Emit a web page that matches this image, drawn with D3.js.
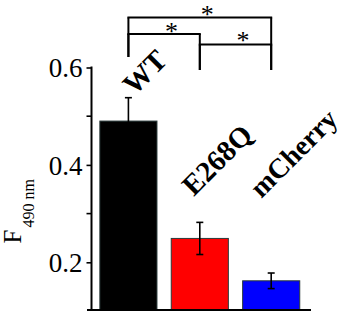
<!DOCTYPE html>
<html><head><meta charset="utf-8">
<script src="https://cdn.jsdelivr.net/npm/d3@7"></script>
<style>html,body{margin:0;padding:0;background:#fff;}svg{display:block;}</style>
</head><body>
<script>
const categories = ["WT", "E268Q", "mCherry"];
const values = [0.49, 0.249, 0.162];
const errors = [0.048, 0.033, 0.016];
const colors = ["#000000", "#ff0000", "#0000ff"];
const majorTicks = [0.2, 0.4, 0.6];
const minorTicks = [0.3, 0.5];
const comparisons = [["WT", "mCherry"], ["WT", "E268Q"], ["E268Q", "mCherry"]];
const sigLabels = ["*", "*", "*"];

const W = 346, H = 316;
const svg = d3.select("body").append("svg").attr("width", W).attr("height", H);
const serif = "Liberation Serif, Times New Roman, serif";

const x = d3.scaleBand().domain(categories).range([92, 307.6]).paddingInner(0.2).paddingOuter(0.11);
const y = d3.scaleLinear().domain([0.1, 0.6]).range([311, 67.5]);
const axisY = 310, axisX = 91.5;

// bars
svg.selectAll("rect.bar").data(categories).enter().append("rect")
  .attr("x", d => x(d)).attr("width", x.bandwidth())
  .attr("y", (d, i) => y(values[i])).attr("height", (d, i) => axisY - y(values[i]))
  .attr("fill", (d, i) => colors[i]).attr("stroke", "#2a3a3a").attr("stroke-width", 1);

// error bars
const eg = svg.append("g").attr("stroke", "#000").attr("stroke-width", 1.6);
categories.forEach((c, i) => {
  const cx = x(c) + x.bandwidth() / 2;
  const lo = Math.min(y(values[i] - errors[i]), axisY), hi = y(values[i] + errors[i]);
  eg.append("line").attr("x1", cx).attr("x2", cx).attr("y1", lo).attr("y2", hi);
  eg.append("line").attr("x1", cx - 3.5).attr("x2", cx + 3.5).attr("y1", hi).attr("y2", hi);
  if (i > 0) eg.append("line").attr("x1", cx - 3.5).attr("x2", cx + 3.5).attr("y1", lo).attr("y2", lo);
});

// y axis
const yAxis = d3.axisLeft(y).tickValues(majorTicks).tickFormat(d3.format(".1f")).tickSize(5).tickSizeOuter(0);
const gy = svg.append("g").attr("transform", `translate(${axisX},0)`).call(yAxis)
  .attr("font-family", serif);
gy.select(".domain").remove();
gy.selectAll(".tick line").attr("stroke", "#000").attr("stroke-width", 1.6);
gy.selectAll(".tick text").attr("font-family", serif).attr("font-size", 27).attr("fill", "#000").attr("x", -9).attr("dy", "0.34em");
gy.append("g").selectAll("line").data(minorTicks).enter().append("line")
  .attr("x1", -5).attr("x2", 0).attr("y1", d => y(d)).attr("y2", d => y(d))
  .attr("stroke", "#000").attr("stroke-width", 1.6);
svg.append("line").attr("x1", axisX).attr("x2", axisX).attr("y1", y(0.6) - 1).attr("y2", axisY + 1)
  .attr("stroke", "#000").attr("stroke-width", 2);
svg.append("line").attr("x1", 87).attr("x2", 311).attr("y1", axisY).attr("y2", axisY)
  .attr("stroke", "#000").attr("stroke-width", 2);

// y label
const yl = svg.append("text").attr("transform", "translate(21,243.5) rotate(-90)")
  .attr("font-family", serif).attr("fill", "#000");
yl.append("tspan").attr("font-size", 25).text("F");
yl.append("tspan").attr("font-size", 16).attr("dy", 12.5).attr("dx", 2).text("490 nm");

// category labels
const labelOffsets = [[6, 96], [-6, 197], [-10, 199]];
const labelSizes = [29, 29, 28];
categories.forEach((c, i) => {
  const cx = x(c) + x.bandwidth() / 2 + labelOffsets[i][0];
  svg.append("text").attr("transform", `translate(${cx},${labelOffsets[i][1]}) rotate(-45)`)
    .attr("font-family", serif).attr("font-weight", "bold").attr("font-size", labelSizes[i]).attr("fill", "#000").text(c);
});

// significance brackets
const cxOf = c => x(c) + x.bandwidth() / 2;
const bracketY = [17.5, 34, 44.5];
const starCenterY = [9, 26, 35];
const legBottom = { "WT": 57, "E268Q": 70, "mCherry": 70 };
const bg = svg.append("g").attr("stroke", "#000").attr("stroke-width", 2).attr("fill", "none");
comparisons.forEach((p, k) => {
  const x1 = cxOf(p[0]), x2 = cxOf(p[1]);
  bg.append("line").attr("x1", x1 - 1).attr("x2", x2 + 1).attr("y1", bracketY[k]).attr("y2", bracketY[k]);
  bg.append("line").attr("x1", x1).attr("x2", x1).attr("y1", bracketY[k]).attr("y2", legBottom[p[0]]);
  bg.append("line").attr("x1", x2).attr("x2", x2).attr("y1", bracketY[k]).attr("y2", legBottom[p[1]]);
  svg.append("text").attr("x", (x1 + x2) / 2 + 7.5).attr("y", starCenterY[k] + 14)
    .attr("text-anchor", "middle").attr("font-family", serif).attr("font-size", 26).attr("fill", "#000").text(sigLabels[k]);
});
</script>
</body></html>
